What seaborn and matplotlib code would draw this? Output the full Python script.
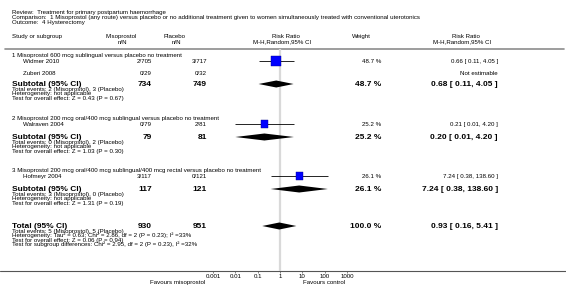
import numpy as np
import pandas as pd
import matplotlib.pyplot as plt
import seaborn as sns

# Du lieu (doc tu hinh)
header_lines = [
    "Review:  Treatment for primary postpartum haemorrhage",
    "Comparison:  1 Misoprostol (any route) versus placebo or no additional treatment given to women simultaneously treated with conventional uterotonics",
    "Outcome:  4 Hysterectomy",
]

subgroup_titles = [
    "1 Misoprostol 600 mcg sublingual versus placebo no treatment",
    "2 Misoprostol 200 mcg oral/400 mcg sublingual versus placebo no treatment",
    "3 Misoprostol 200 mcg oral/400 mcg sublingual/400 mcg rectal versus placebo no treatment",
]
subgroup_miso_n = [734, 79, 117]
subgroup_plac_n = [749, 81, 121]
subgroup_rr = [0.68, 0.20, 7.24]
subgroup_lo = [0.11, 0.01, 0.38]
subgroup_hi = [4.05, 4.20, 138.60]
subgroup_weight = [48.7, 25.2, 26.1]
subgroup_events = [
    "Total events: 2 (Misoprostol), 3 (Placebo)",
    "Total events: 0 (Misoprostol), 2 (Placebo)",
    "Total events: 3 (Misoprostol), 0 (Placebo)",
]
subgroup_het = ["Heterogeneity: not applicable"] * 3
subgroup_test = [
    "Test for overall effect: Z = 0.43 (P = 0.67)",
    "Test for overall effect: Z = 1.03 (P = 0.30)",
    "Test for overall effect: Z = 1.31 (P = 0.19)",
]

studies = ["Widmer 2010", "Zuberi 2008", "Walraven 2004", "Hofmeyr 2004"]
study_group = [0, 0, 1, 2]
study_miso = ["2/705", "0/29", "0/79", "3/117"]
study_plac = ["3/717", "0/32", "2/81", "0/121"]
study_rr = [0.66, np.nan, 0.21, 7.24]
study_lo = [0.11, np.nan, 0.01, 0.38]
study_hi = [4.05, np.nan, 4.20, 138.60]
study_weight = [48.7, np.nan, 25.2, 26.1]

total_miso_n = 930
total_plac_n = 951
total_rr = 0.93
total_lo = 0.16
total_hi = 5.41
total_lines = [
    "Total events: 5 (Misoprostol), 5 (Placebo)",
    "Heterogeneity: Tau\u00b2 = 0.63; Chi\u00b2 = 2.86, df = 2 (P = 0.23); I\u00b2 =33%",
    "Test for overall effect: Z = 0.06 (P = 0.94)",
    "Test for subgroup differences: Chi\u00b2 = 2.95, df = 2 (P = 0.23), I\u00b2 =32%",
]

xticks = [0.001, 0.01, 0.1, 1, 10, 100, 1000]
xtick_labels = ["0.001", "0.01", "0.1", "1", "10", "100", "1000"]

# Vi tri cac dong (pixel)
W, H = 566, 288
head_y = [55, 118, 170]
study_y = [61, 73, 124, 176]
sub_y = [84, 137, 189]
total_y = 226
axis_y = 271
top_rule = 49

SMALL = 4.4
BIG = 6.0


def fmt_ci(r, lo, hi):
    return f"{r:.2f} [ {lo:.2f}, {hi:.2f} ]"


def main():
    sns.set_theme(style="white")
    plt.rcParams["font.family"] = ["Liberation Sans", "DejaVu Sans"]

    fig = plt.figure(figsize=(W / 100, H / 100), dpi=100)
    bg = fig.add_axes([0, 0, 1, 1])
    bg.set_xlim(0, W)
    bg.set_ylim(H, 0)
    bg.axis("off")

    def txt(x, y, s, ha="left", bold=False):
        # y = tam dong chu, dung baseline de cac cot thang hang
        off = 2.2 if bold else 1.7
        bg.text(x, y + off, s, ha=ha, va="baseline",
                fontsize=BIG if bold else SMALL,
                fontweight="bold" if bold else "normal", color="black")

    # Tieu de
    for i, s in enumerate(header_lines):
        txt(12, 12 + 5 * i, s)

    txt(12, 36, "Study or subgroup")
    txt(121, 36, "Misoprostol", ha="center")
    txt(122, 42, "n/N", ha="center")
    txt(175, 36, "Placebo", ha="center")
    txt(176, 42, "n/N", ha="center")
    txt(286, 36, "Risk Ratio", ha="center")
    txt(282, 42, "M-H,Random,95% CI", ha="center")
    txt(361, 36, "Weight", ha="center")
    txt(466, 36, "Risk Ratio", ha="center")
    txt(462, 42, "M-H,Random,95% CI", ha="center")

    bg.plot([5, W - 2], [top_rule, top_rule], color="#8c8c8c", lw=1.2)
    bg.plot([0, W], [axis_y, axis_y], color="#555555", lw=0.8)

    # Cac nghien cuu
    for i, name in enumerate(studies):
        y = study_y[i]
        txt(23, y, name)
        txt(152, y, study_miso[i], ha="right")
        txt(207, y, study_plac[i], ha="right")
        if np.isnan(study_rr[i]):
            txt(498, y, "Not estimable", ha="right")
        else:
            txt(381, y, f"{study_weight[i]:.1f} %", ha="right")
            txt(498, y, fmt_ci(study_rr[i], study_lo[i], study_hi[i]), ha="right")

    # Cac phan nhom
    for g, title in enumerate(subgroup_titles):
        txt(12, head_y[g], title)
        y = sub_y[g]
        txt(12, y, "Subtotal (95% CI)", bold=True)
        txt(152, y, str(subgroup_miso_n[g]), ha="right", bold=True)
        txt(207, y, str(subgroup_plac_n[g]), ha="right", bold=True)
        txt(381, y, f"{subgroup_weight[g]:.1f} %", ha="right", bold=True)
        txt(498, y, fmt_ci(subgroup_rr[g], subgroup_lo[g], subgroup_hi[g]),
            ha="right", bold=True)
        for k, s in enumerate([subgroup_events[g], subgroup_het[g], subgroup_test[g]]):
            txt(12, y + 5 + 4.5 * k, s)

    # Tong
    txt(12, total_y, "Total (95% CI)", bold=True)
    txt(152, total_y, str(total_miso_n), ha="right", bold=True)
    txt(207, total_y, str(total_plac_n), ha="right", bold=True)
    txt(381, total_y, "100.0 %", ha="right", bold=True)
    txt(498, total_y, fmt_ci(total_rr, total_lo, total_hi), ha="right", bold=True)
    for k, s in enumerate(total_lines):
        txt(12, total_y + 5 + 4.5 * k, s)

    txt(205, 282, "Favours misoprostol", ha="right")
    txt(303, 282, "Favours control")

    # Bieu do rung (forest)
    x0, x1 = 213, 347
    ax = fig.add_axes([x0 / W, (H - axis_y) / H, (x1 - x0) / W, (axis_y - top_rule) / H])
    ax.patch.set_alpha(0)
    ax.set_xscale("log")
    ax.set_xlim(1e-3, 1e3)
    ax.set_ylim(axis_y, top_rule)
    for sp in ax.spines.values():
        sp.set_visible(False)
    ax.axvline(1, color="#d9d9d9", lw=1.6, zorder=0)

    df = pd.DataFrame({"rr": study_rr, "lo": study_lo, "hi": study_hi,
                       "weight": study_weight, "y": study_y}).dropna()
    ax.hlines(df["y"], df["lo"], df["hi"], color="black", lw=0.6, zorder=2)
    sns.scatterplot(data=df, x="rr", y="y", size="weight", sizes=(26, 53),
                    size_norm=(25.2, 48.7), marker="s", color="#0000ff",
                    edgecolor="#00008b", linewidth=0.3, legend=False, ax=ax, zorder=3)

    dia_rr = subgroup_rr + [total_rr]
    dia_lo = subgroup_lo + [total_lo]
    dia_hi = subgroup_hi + [total_hi]
    dia_y = sub_y + [total_y]
    for r, lo, hi, y in zip(dia_rr, dia_lo, dia_hi, dia_y):
        ax.fill([lo, r, hi, r], [y, y - 3.5, y, y + 3.5], color="black", lw=0, zorder=3)

    ax.set_xticks(xticks)
    ax.set_xticklabels(xtick_labels)
    ax.minorticks_off()
    ax.set_yticks([])
    ax.set_xlabel("")
    ax.set_ylabel("")
    ax.tick_params(axis="x", bottom=True, length=1.5, width=0.5, color="#555555",
                   pad=1, labelsize=SMALL, labelcolor="black")

    fig.savefig("out.png", dpi=100)


if __name__ == "__main__":
    main()
